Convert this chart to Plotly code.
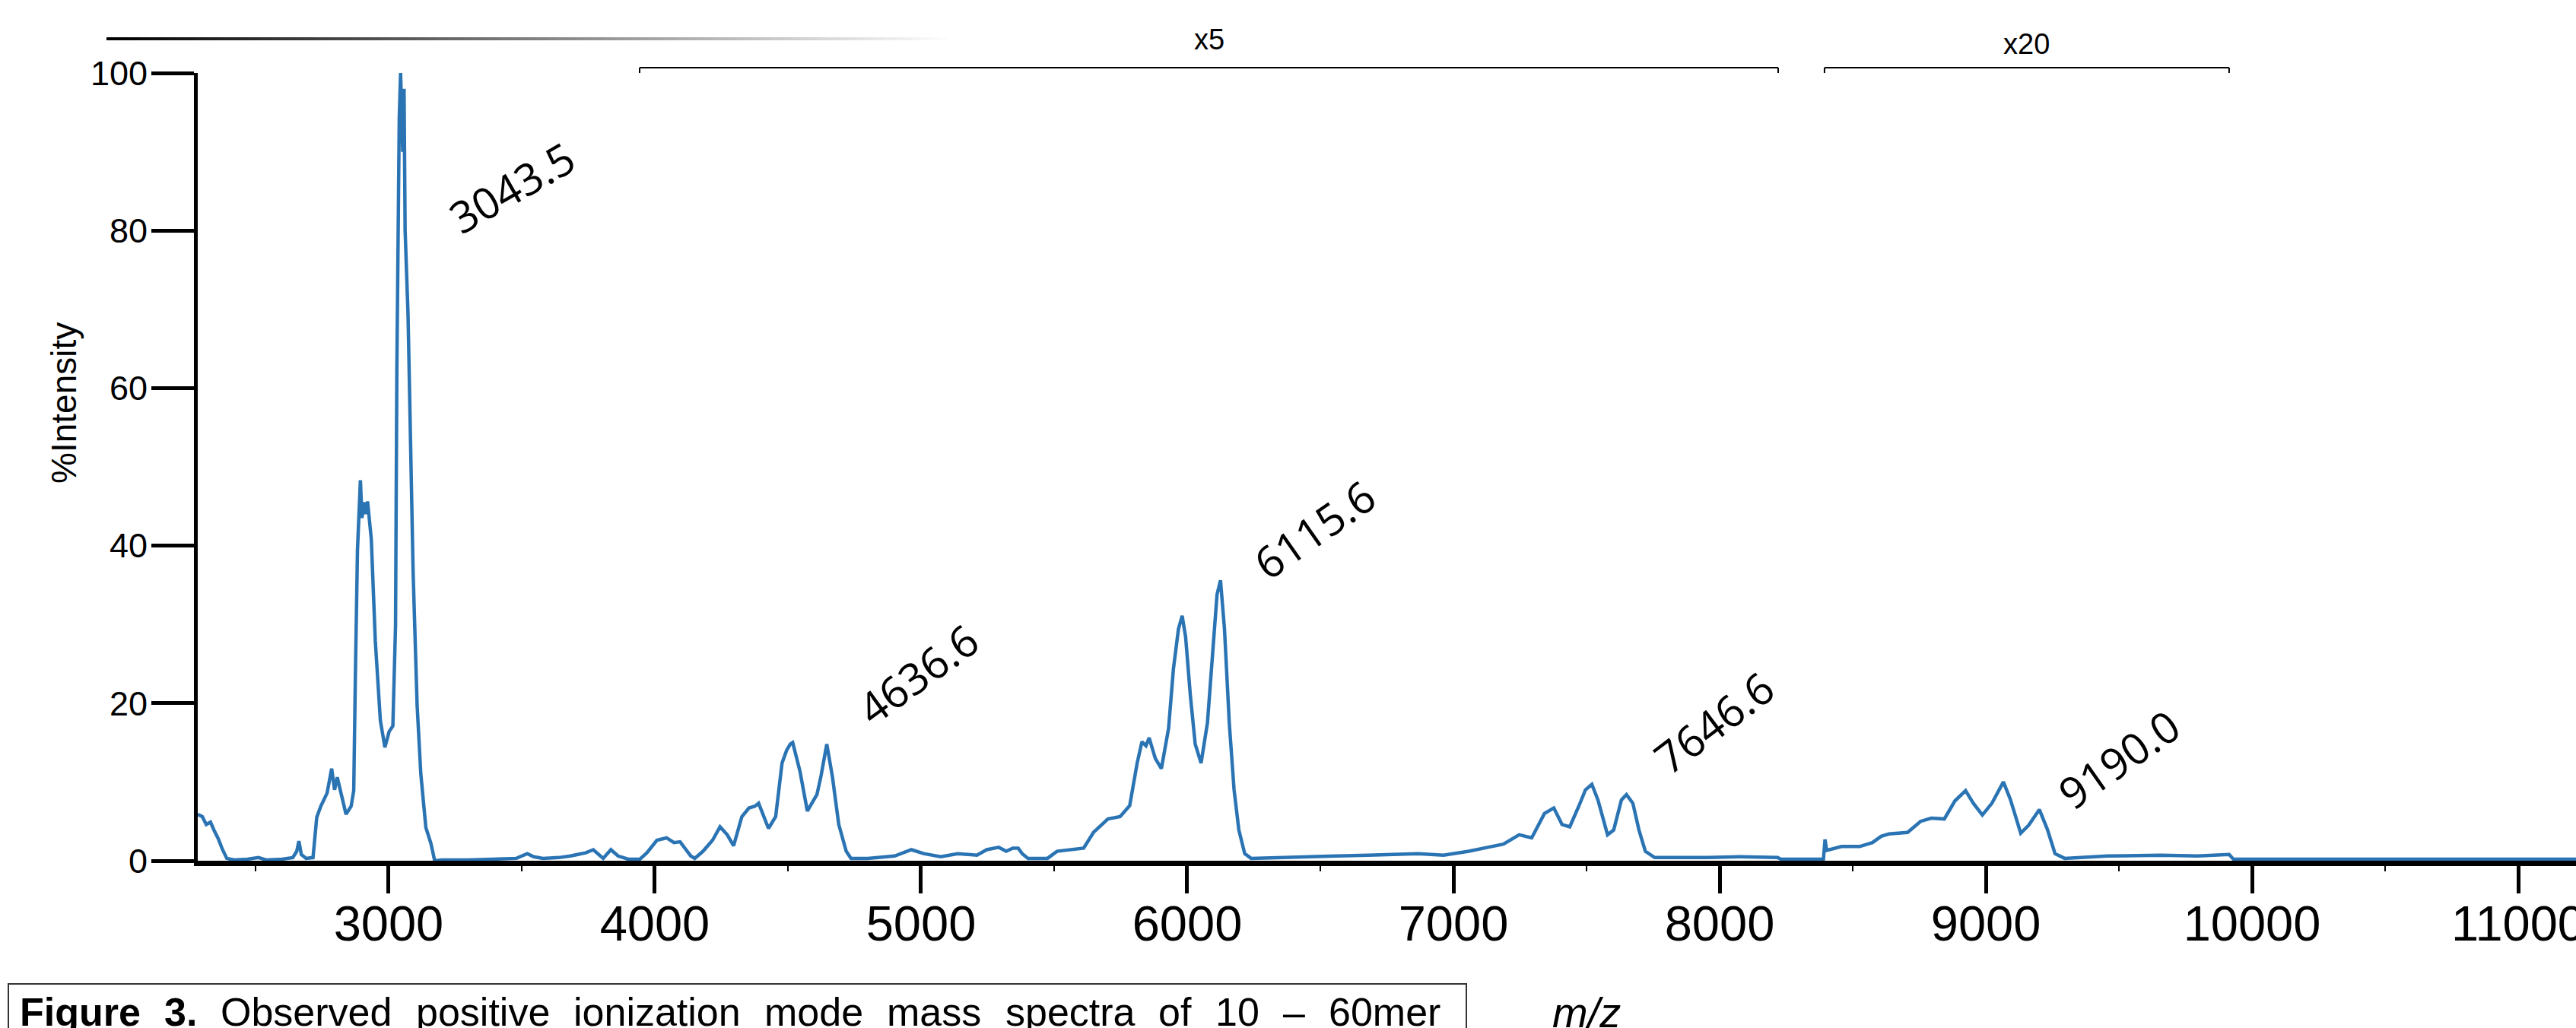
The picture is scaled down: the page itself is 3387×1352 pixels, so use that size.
import plotly.graph_objects as go

# ---------------- data ----------------
MZ = [2283, 2300, 2315, 2331, 2345, 2360, 2375, 2392, 2420, 2470, 2511, 2540, 2600, 2640,
      2655, 2663, 2672, 2690, 2716, 2722, 2730, 2745, 2769, 2786, 2797, 2807, 2826, 2840,
      2859, 2869, 2875, 2883, 2894, 2900, 2907, 2914, 2921, 2935, 2950, 2969, 2986, 2995,
      3002, 3016, 3026, 3031, 3035, 3040, 3045, 3049, 3053, 3058, 3062, 3073, 3083, 3092,
      3107, 3121, 3140, 3159, 3173, 3200, 3300, 3400, 3480, 3521, 3545, 3580, 3640, 3683,
      3740, 3769, 3790, 3806, 3835, 3862, 3900, 3944, 3970, 4008, 4044, 4060, 4072, 4095,
      4135, 4150, 4181, 4217, 4245, 4272, 4296, 4327, 4354, 4375, 4390, 4427, 4454, 4478,
      4495, 4509, 4518, 4545, 4573, 4609, 4624, 4646, 4667, 4691, 4719, 4737, 4800, 4901,
      4964, 5010, 5074, 5138, 5210, 5247, 5292, 5320, 5345, 5365, 5380, 5402, 5475, 5511,
      5560, 5611, 5648, 5702, 5748, 5784, 5812, 5830, 5845, 5857, 5880, 5903, 5930, 5948,
      5967, 5981, 5994, 6012, 6030, 6052, 6076, 6100, 6112, 6125, 6140, 6158, 6176, 6194,
      6216, 6240, 6400, 6560, 6680, 6773, 6868, 6963, 7058, 7129, 7188, 7247, 7294, 7342,
      7377, 7408, 7437, 7472, 7496, 7520, 7543, 7579, 7602, 7631, 7650, 7674, 7697, 7721,
      7756, 7958, 8076, 8218, 8230, 8390, 8396, 8402, 8458, 8526, 8574, 8607, 8636, 8706,
      8755, 8795, 8844, 8884, 8924, 8953, 8987, 9023, 9066, 9092, 9131, 9161, 9201, 9231,
      9260, 9296, 9458, 9656, 9795, 9914, 9930, 11217]
INTENSITY = [5.9, 5.6, 4.6, 4.9, 3.8, 2.8, 1.5, 0.3, 0.1, 0.2, 0.4, 0.1, 0.2, 0.4,
             1.2, 2.5, 0.8, 0.3, 0.4, 2.5, 5.5, 6.9, 8.6, 11.7, 9.0, 10.6, 7.6, 5.9,
             6.9, 8.9, 23.2, 39.4, 48.3, 43.5, 45.5, 44.0, 45.6, 40.8, 27.9, 17.8, 14.4, 15.5,
             16.4, 17.1, 29.9, 62.5, 80.1, 94.4, 100.0, 93.0, 90.0, 98.0, 80.0, 69.3, 50.3, 36.7,
             19.8, 11.0, 4.2, 2.2, 0.0, 0.1, 0.1, 0.2, 0.3, 0.9, 0.5, 0.3, 0.4, 0.6,
             1.0, 1.4, 0.7, 0.3, 1.4, 0.6, 0.2, 0.2, 1.0, 2.6, 2.9, 2.5, 2.3, 2.4,
             0.6, 0.3, 1.2, 2.6, 4.3, 3.3, 1.9, 5.6, 6.7, 6.9, 7.3, 4.1, 5.6, 12.4,
             14.0, 14.8, 15.0, 11.4, 6.3, 8.4, 10.7, 14.8, 10.7, 4.6, 1.2, 0.3, 0.3, 0.6,
             1.4, 0.9, 0.5, 0.9, 0.7, 1.4, 1.7, 1.2, 1.6, 1.6, 0.9, 0.3, 0.3, 1.2,
             1.4, 1.6, 3.6, 5.3, 5.6, 7.0, 12.4, 15.1, 14.6, 15.6, 13.0, 11.7, 16.8, 24.3,
             29.4, 31.1, 28.4, 20.9, 14.8, 12.4, 17.5, 28.4, 33.8, 35.6, 29.4, 17.5, 9.0, 3.9,
             0.9, 0.3, 0.4, 0.6, 0.7, 0.8, 0.9, 0.7, 1.2, 1.7, 2.1, 3.3, 2.9, 6.0,
             6.7, 4.6, 4.3, 7.0, 9.0, 9.7, 7.7, 3.3, 3.9, 7.7, 8.4, 7.3, 3.9, 1.2,
             0.4, 0.4, 0.5, 0.4, 0.2, 0.2, 2.7, 1.3, 1.8, 1.8, 2.3, 3.1, 3.4, 3.6,
             5.0, 5.4, 5.3, 7.6, 8.9, 7.3, 5.8, 7.3, 10.0, 7.8, 3.5, 4.5, 6.5, 4.0,
             0.9, 0.3, 0.6, 0.7, 0.6, 0.8, 0.2, 0.2]

X_RANGE = [2283, 11217]
Y_RANGE = [0, 100]
X_TICKS = [3000, 4000, 5000, 6000, 7000, 8000, 9000, 10000, 11000]
Y_TICKS = [0, 20, 40, 60, 80, 100]

PEAK_LABELS = ["3043.5", "4636.6", "6115.6", "7646.6", "9190.0"]
PEAK_LABEL_MZ = [3463, 4989, 6477, 7977, 9500]
PEAK_LABEL_INT = [85.5, 23.7, 42.1, 17.6, 12.9]
PEAK_LABEL_ANGLE = [-30, -36, -35, -37, -35]

SCALE_LABELS = ["x5", "x20"]
SCALE_START = [3943, 8394]
SCALE_END = [8220, 9914]

Y_TITLE = "%Intensity"
X_TITLE = "<i>m/z</i>"
CAPTION_WORDS = ["Figure", "3.", "Observed", "positive", "ionization", "mode", "mass",
                 "spectra", "of", "10", "\u2013", "60mer"]
CAPTION_BOLD = [True, True, False, False, False, False, False, False, False, False, False, False]

# ---------------- layout helpers ----------------
W, H = 3387, 1352
PL, PR, PT, PB = 260, 3387, 96, 1132


def px_x(px):
    return (px - PL) / (PR - PL)


def px_y(py):
    return (PB - py) / (PB - PT)


FONT = "Liberation Sans, Arial, sans-serif"
LINE_BLUE = "#2b74b4"

fig = go.Figure()
fig.add_trace(go.Scatter(x=MZ, y=INTENSITY, mode="lines",
                         line=dict(color=LINE_BLUE, width=4.5), hoverinfo="skip"))

annotations = []
shapes = []

# peak labels
for t, xm, yv, ang in zip(PEAK_LABELS, PEAK_LABEL_MZ, PEAK_LABEL_INT, PEAK_LABEL_ANGLE):
    annotations.append(dict(x=xm, y=yv, xref="x", yref="y", text=t, showarrow=False,
                            textangle=ang, xanchor="center", yanchor="middle",
                            font=dict(family="Open Sans, Noto Sans, sans-serif", size=57, color="black")))

# scale brackets
for lab, x0, x1, ty in zip(SCALE_LABELS, SCALE_START, SCALE_END, [52, 58]):
    yl = px_y(89)
    yt = px_y(96)
    shapes.append(dict(type="line", xref="x", yref="paper", x0=x0, x1=x1, y0=yl, y1=yl,
                       line=dict(color="black", width=2)))
    shapes.append(dict(type="line", xref="x", yref="paper", x0=x0, x1=x0, y0=yl, y1=yt,
                       line=dict(color="black", width=2)))
    shapes.append(dict(type="line", xref="x", yref="paper", x0=x1, x1=x1, y0=yl, y1=yt,
                       line=dict(color="black", width=2)))
    annotations.append(dict(x=(x0 + x1) / 2, y=px_y(ty), xref="x", yref="paper", text=lab,
                            showarrow=False, xanchor="center", yanchor="middle",
                            font=dict(family=FONT, size=38, color="black")))

# gradient bar at top-left (black fading to white)
N = 120
gx0, gx1 = 140, 1245
for i in range(N):
    a = gx0 + (gx1 - gx0) * i / N
    b = gx0 + (gx1 - gx0) * (i + 1) / N + 1
    g = int(round(252 * i / (N - 1)))
    shapes.append(dict(type="rect", xref="paper", yref="paper", x0=px_x(a), x1=px_x(b),
                       y0=px_y(53), y1=px_y(49), fillcolor=f"rgb({g},{g},{g})",
                       line=dict(width=0), layer="above"))

# y title
annotations.append(dict(x=px_x(84), y=px_y(530), xref="paper", yref="paper", text=Y_TITLE,
                        showarrow=False, textangle=-90, xanchor="center", yanchor="middle",
                        font=dict(family=FONT, size=46, color="black")))

# x title
annotations.append(dict(x=px_x(2086), y=px_y(1298), xref="paper", yref="paper", text=X_TITLE,
                        showarrow=False, xanchor="center", yanchor="top",
                        font=dict(family=FONT, size=56, color="black")))

# caption box + justified words
shapes.append(dict(type="rect", xref="paper", yref="paper", x0=px_x(11), x1=px_x(1928),
                   y0=px_y(1420), y1=px_y(1294), line=dict(color="#333333", width=2),
                   fillcolor="rgba(0,0,0,0)"))

CAP_SIZE = 52
REG = {' ': 278, 'O': 778, 'b': 556, 's': 500, 'e': 556, 'r': 333, 'v': 500, 'd': 556,
       'p': 556, 'o': 556, 'i': 222, 't': 278, 'n': 556, 'z': 500, 'a': 556, 'm': 833,
       'c': 500, 'f': 278, '1': 556, '0': 556, '6': 556, '\u2013': 556}
BOLD = {'F': 611, 'i': 278, 'g': 611, 'u': 611, 'r': 389, 'e': 556, '3': 556, '.': 278}


def word_w(w, bold):
    tab = BOLD if bold else REG
    return sum(tab.get(ch, 556) for ch in w) * CAP_SIZE / 1000.0


cap_x0, cap_x1 = 24, 1892
widths = [word_w(w, b) for w, b in zip(CAPTION_WORDS, CAPTION_BOLD)]
gap = (cap_x1 - cap_x0 - sum(widths)) / (len(CAPTION_WORDS) - 1)
cx = cap_x0
for w, b, ww in zip(CAPTION_WORDS, CAPTION_BOLD, widths):
    txt = f"<b>{w}</b>" if b else w
    annotations.append(dict(x=px_x(cx), y=px_y(1300), xref="paper", yref="paper", text=txt,
                            showarrow=False, xanchor="left", yanchor="top",
                            font=dict(family=FONT, size=CAP_SIZE, color="black")))
    cx += ww + gap

fig.update_layout(
    width=W, height=H,
    margin=dict(l=PL, r=W - PR, t=PT, b=H - PB, pad=0),
    plot_bgcolor="white", paper_bgcolor="white", showlegend=False,
    annotations=annotations, shapes=shapes,
    xaxis=dict(range=X_RANGE, tickvals=X_TICKS, ticktext=[str(v) for v in X_TICKS],
               ticks="outside", ticklen=36, tickwidth=5, tickcolor="black",
               showline=True, linewidth=7, linecolor="black",
               showgrid=False, zeroline=False, automargin=False,
               ticklabeloverflow="allow",
               tickfont=dict(family=FONT, size=65, color="black"),
               minor=dict(dtick=500, tick0=0, ticks="outside", ticklen=7, tickwidth=2,
                          tickcolor="black", showgrid=False)),
    yaxis=dict(range=Y_RANGE, tickvals=Y_TICKS, ticktext=[str(v) for v in Y_TICKS],
               ticks="outside", ticklen=56, tickwidth=5, tickcolor="black",
               showline=True, linewidth=5, linecolor="black",
               showgrid=False, zeroline=False, automargin=False,
               ticklabeloverflow="allow",
               tickfont=dict(family=FONT, size=45, color="black")),
)

try:
    fig.update_xaxes(ticklabelstandoff=-16)
    fig.update_yaxes(ticklabelstandoff=-4)
except Exception:
    pass

fig.write_html("out.html", config={"displayModeBar": False},
               post_script="document.body.style.margin='0px';")
